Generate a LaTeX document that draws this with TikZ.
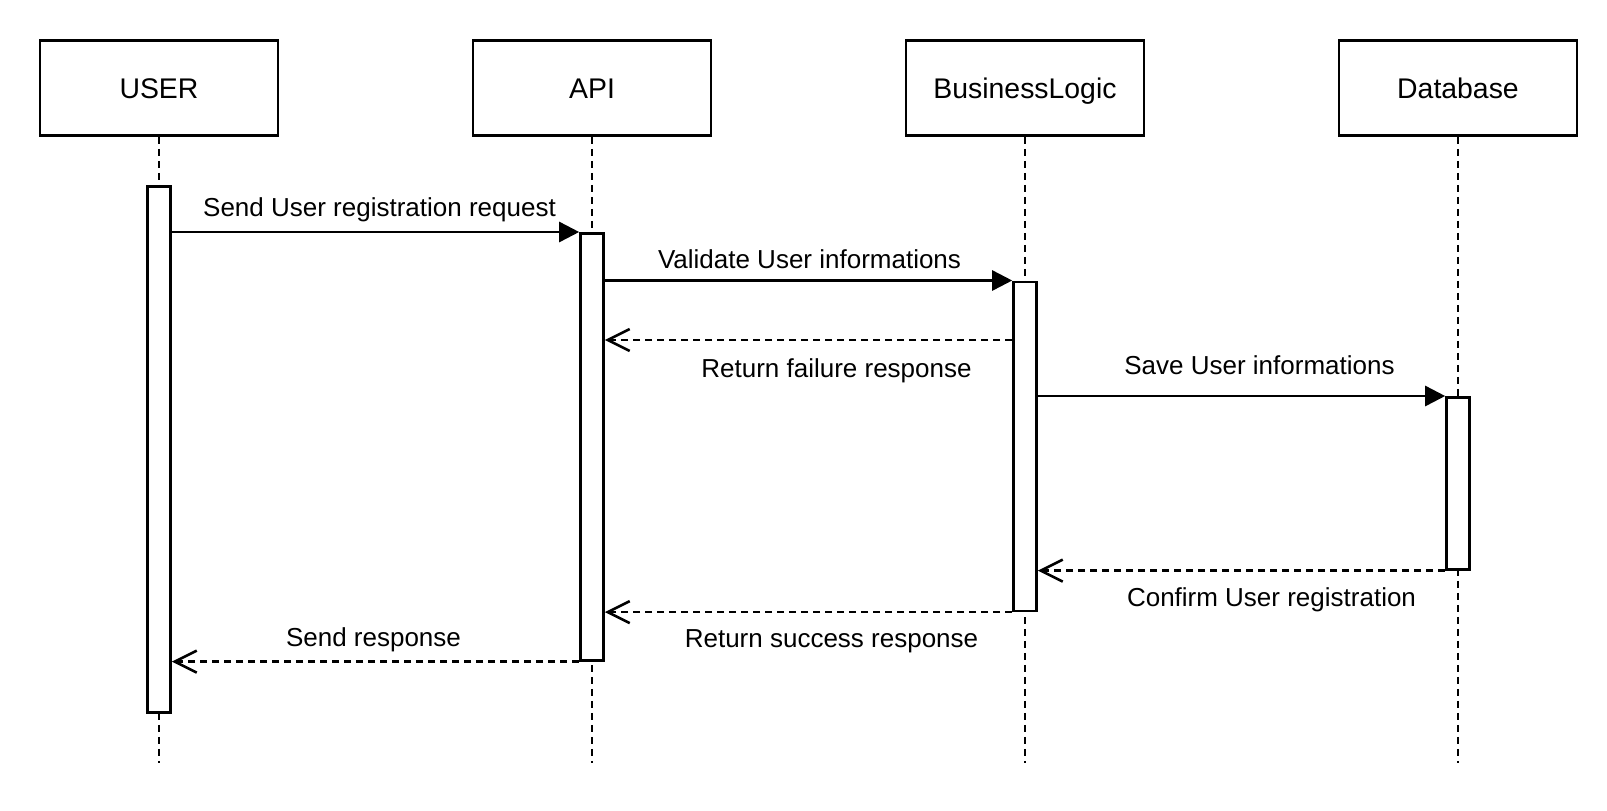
\documentclass[tikz,border=0pt]{standalone}
\usepackage{fontspec}
\setmainfont{Liberation Sans}
\usetikzlibrary{arrows.meta}
\tikzstyle{actor} = [rectangle, minimum width=119pt, minimum height=47.5pt, text centered, text height=10.2pt, text depth=0pt, draw=black, line width=1.3pt, font=\fontsize{14.2pt}{17pt}\selectfont]
\tikzstyle{bar} = [rectangle, minimum width=11.5pt, inner sep=0pt, draw=black, fill=white, line width=1.3pt, anchor=north]
\tikzstyle{lifeline} = [line width=1.3pt, dash pattern=on 3.5pt off 2.5pt]
\tikzstyle{call} = [line width=1.3pt, -{Triangle[length=10pt, width=10pt]}]
\tikzstyle{reply} = [line width=1.3pt, dash pattern=on 3.5pt off 2.5pt, -{Straight Barb[length=11pt, width=11pt]}]
\tikzstyle{msg} = [font=\fontsize{13pt}{16pt}\selectfont, anchor=base, inner sep=0pt]

\begin{document}
\begin{tikzpicture}[x=0.5pt, y=-0.5pt, node distance=216.5pt]
\useasboundingbox (0,0) rectangle (1607,810);
\node (user) [actor] at (159,88) {USER};
\node (api) [actor, right of=user] {API};
\node (logic) [actor, right of=api] {BusinessLogic};
\node (db) [actor, right of=logic] {Database};

\coordinate (lifeend) at (0,763);
\coordinate (fail) at (0,340);
\foreach \n in {user, api, logic, db}
  \draw [lifeline] (\n.south) -- (\n.south |- lifeend);

\node (userbar) [bar, minimum height=263pt] at (user.south |- 0,185) {};
\node (apibar) [bar, minimum height=213.5pt] at (api.south |- 0,232) {};
\node (logicbar) [bar, minimum height=164.5pt] at (logic.south |- 0,280.5) {};
\node (dbbar) [bar, minimum height=86pt] at (db.south |- 0,396) {};

\draw [call] (userbar.east |- apibar.north) -- node[msg, xshift=2pt, yshift=7.9pt] {Send User registration request} (apibar.north west);
\draw [call] (apibar.east |- logicbar.north) -- node[msg, xshift=0.5pt, yshift=6.2pt] {Validate User informations} (logicbar.north west);
\draw [reply] (logicbar.west |- fail) -- node[msg, xshift=14pt, yshift=-18.5pt] {Return failure response} (apibar.east |- fail);
\draw [call] (logicbar.east |- dbbar.north) -- node[msg, xshift=9pt, yshift=10.8pt] {Save User informations} (dbbar.north west);
\draw [reply] (dbbar.south west) -- node[msg, xshift=15pt, yshift=-18pt] {Confirm User registration} (logicbar.east |- dbbar.south);
\draw [reply] (logicbar.south west) -- node[msg, xshift=11.5pt, yshift=-17.5pt] {Return success response} (apibar.east |- logicbar.south);
\draw [reply] (apibar.south west) -- node[msg, xshift=-1pt, yshift=7.5pt] {Send response} (userbar.east |- apibar.south);
\end{tikzpicture}
\end{document}
